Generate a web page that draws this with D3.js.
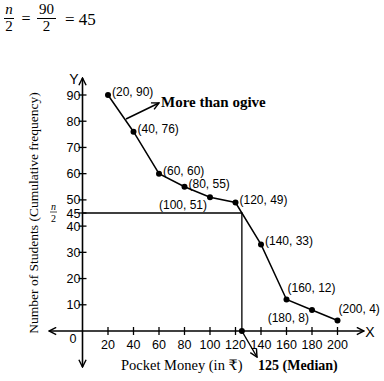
<!DOCTYPE html>
<html><head><meta charset="utf-8">
<script src="https://cdn.jsdelivr.net/npm/d3@7"></script>
<style>body{margin:0;background:#fff}svg{display:block}</style>
</head><body>
<script>
const xValues = [20, 40, 60, 80, 100, 120, 140, 160, 180, 200];
const yValues = [90, 76, 60, 55, 51, 49, 33, 12, 8, 4];
const xTicks = [20, 40, 60, 80, 100, 120, 140, 160, 180, 200];
const yTicks = [10, 20, 30, 40, 45, 50, 60, 70, 80, 90];
const n = 90;
const median = 125;
const labelSide = ["r", "r", "r", "r", "bl", "r", "r", "tr", "bl", "tr"];

const W = 384, H = 381;
const svg = d3.select("body").append("svg").attr("width", W).attr("height", H);
const x = d3.scaleLinear().domain([0, 200]).range([82.5, 337.5]);
const y = d3.scaleLinear().domain([0, 90]).range([331, 95]);
const sans = "Liberation Sans, Arial, sans-serif";
const serif = "Liberation Serif, DejaVu Serif, serif";

const defs = svg.append("defs");
defs.append("marker").attr("id", "ah").attr("viewBox", "0 0 10 10").attr("refX", 9).attr("refY", 5)
  .attr("markerWidth", 9).attr("markerHeight", 9).attr("markerUnits", "userSpaceOnUse").attr("orient", "auto")
  .append("path").attr("d", "M1,1 L9,5 L1,9").attr("fill", "none").attr("stroke", "#000").attr("stroke-width", 1.6);

// top formula
const f = svg.append("g").attr("font-family", serif).attr("fill", "#000");
f.append("text").attr("x", 9).attr("y", 14).attr("font-size", 15).attr("font-style", "italic").attr("text-anchor", "middle").text("n");
f.append("line").attr("x1", 4).attr("x2", 14).attr("y1", 18.5).attr("y2", 18.5).attr("stroke", "#000").attr("stroke-width", 1);
f.append("text").attr("x", 9).attr("y", 31).attr("font-size", 15).attr("text-anchor", "middle").text("2");
f.append("text").attr("x", 26).attr("y", 24).attr("font-size", 16).attr("text-anchor", "middle").text("=");
f.append("text").attr("x", 46.5).attr("y", 14).attr("font-size", 15).attr("text-anchor", "middle").text(n);
f.append("line").attr("x1", 37).attr("x2", 56).attr("y1", 18.5).attr("y2", 18.5).attr("stroke", "#000").attr("stroke-width", 1);
f.append("text").attr("x", 46.5).attr("y", 31).attr("font-size", 15).attr("text-anchor", "middle").text("2");
f.append("text").attr("x", 65).attr("y", 25).attr("font-size", 17).text("= " + n / 2);

// axes
const ax = svg.append("g").attr("stroke", "#000").attr("stroke-width", 1.6);
ax.append("line").attr("x1", x(0)).attr("x2", 49).attr("y1", y(0)).attr("y2", y(0)).attr("marker-end", "url(#ah)");
ax.append("line").attr("x1", x(0)).attr("x2", 364).attr("y1", y(0)).attr("y2", y(0)).attr("marker-end", "url(#ah)");
ax.append("line").attr("x1", x(0)).attr("x2", x(0)).attr("y1", y(0)).attr("y2", 78).attr("marker-end", "url(#ah)");
ax.append("line").attr("x1", x(0)).attr("x2", x(0)).attr("y1", y(0)).attr("y2", 367).attr("marker-end", "url(#ah)");

// ticks
ax.selectAll(".xt").data(xTicks).join("line").attr("x1", d => x(d)).attr("x2", d => x(d))
  .attr("y1", y(0) - 4).attr("y2", y(0) + 4).attr("stroke-width", 1.3);
ax.selectAll(".yt").data(yTicks).join("line").attr("y1", d => y(d)).attr("y2", d => y(d))
  .attr("x1", x(0) - 4).attr("x2", x(0) + 4).attr("stroke-width", 1.3);

const tl = svg.append("g").attr("font-family", sans).attr("font-size", 12.5).attr("fill", "#000");
tl.selectAll(".xl").data(xTicks).join("text").attr("x", d => x(d)).attr("y", y(0) + 18)
  .attr("text-anchor", "middle").text(d => d);
tl.selectAll(".yl").data(yTicks).join("text").attr("x", x(0) - 2).attr("y", d => y(d) + 4.5)
  .attr("text-anchor", "end").text(d => d);
tl.append("text").attr("x", 73).attr("y", 343).attr("text-anchor", "middle").text("0");
tl.append("text").attr("x", 74).attr("y", 84).attr("text-anchor", "middle").attr("font-size", 14).text("Y");
tl.append("text").attr("x", 370).attr("y", 336.5).attr("text-anchor", "middle").attr("font-size", 14).text("X");

// n/2 label at 45
const nl = svg.append("g").attr("font-family", serif).attr("font-size", 10).attr("fill", "#000");
nl.append("text").attr("x", 53.5).attr("y", y(45) - 3).attr("font-style", "italic").attr("text-anchor", "middle").text("n");
nl.append("line").attr("x1", 50).attr("x2", 57).attr("y1", y(45) - 1).attr("y2", y(45) - 1).attr("stroke", "#000").attr("stroke-width", 0.7);
nl.append("text").attr("x", 53.5).attr("y", y(45) + 9).attr("text-anchor", "middle").text("2");

// median lines
svg.append("path").attr("fill", "none").attr("stroke", "#000").attr("stroke-width", 1.3)
  .attr("d", `M${x(0)},${y(n / 2)}H${x(median)}V${y(0)}`);

// ogive
svg.append("path").datum(xValues.map((v, i) => [v, yValues[i]])).attr("fill", "none")
  .attr("stroke", "#000").attr("stroke-width", 1.5)
  .attr("d", d3.line().x(d => x(d[0])).y(d => y(d[1])));
svg.selectAll(".pt").data(xValues).join("circle").attr("cx", d => x(d)).attr("cy", (d, i) => y(yValues[i]))
  .attr("r", 3).attr("fill", "#000");
svg.append("circle").attr("cx", x(median)).attr("cy", y(0)).attr("r", 3).attr("fill", "#000");

// point labels
const pl = svg.append("g").attr("font-family", sans).attr("font-size", 12).attr("fill", "#000");
xValues.forEach((v, i) => {
  const px = x(v), py = y(yValues[i]), s = labelSide[i];
  const t = pl.append("text").text(`(${v}, ${yValues[i]})`);
  if (s === "r") t.attr("x", px + 4).attr("y", py + 1);
  else if (s === "bl") t.attr("x", px - 3).attr("y", py + 12).attr("text-anchor", "end");
  else t.attr("x", px + 1).attr("y", py - 8);
});

// More than ogive annotation
svg.append("line").attr("x1", 126).attr("y1", 119).attr("x2", 159).attr("y2", 103)
  .attr("stroke", "#000").attr("stroke-width", 1.4).attr("marker-end", "url(#ah)");
svg.append("text").attr("x", 161).attr("y", 106.5).attr("font-family", serif).attr("font-weight", "bold")
  .attr("font-size", 15).text("More than ogive");

// median arrow + label
svg.append("line").attr("x1", x(median)).attr("y1", y(0)).attr("x2", 257).attr("y2", 357)
  .attr("stroke", "#000").attr("stroke-width", 1.4).attr("marker-end", "url(#ah)");
svg.append("text").attr("x", 258).attr("y", 370).attr("font-family", serif).attr("font-weight", "bold")
  .attr("font-size", 14).text(median + " (Median)");
svg.append("text").attr("x", 121).attr("y", 370).attr("font-family", serif)
  .attr("font-size", 14.5).text("Pocket Money (in ₹)");

// y title
svg.append("text").attr("transform", "translate(38,213) rotate(-90)").attr("text-anchor", "middle")
  .attr("font-family", serif).attr("font-size", 13.5).text("Number of Students (Cumulative frequency)");
</script>
</body></html>
